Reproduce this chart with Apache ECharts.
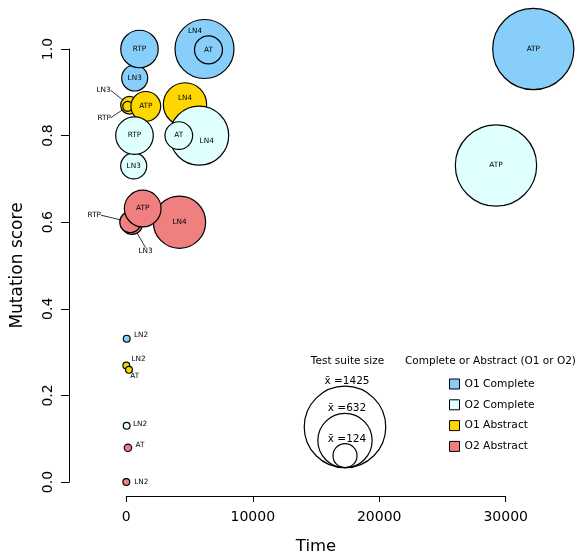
<!DOCTYPE html>
<html>
<head>
<meta charset="utf-8">
<script src="https://cdn.jsdelivr.net/npm/echarts@6/dist/echarts.min.js"></script>
<style>html,body{margin:0;padding:0;background:#fff}#c{width:579px;height:560px}</style>
</head>
<body>
<div id="c"></div>
<script>
// ---- data ----
const techniques = ['LN2', 'LN3', 'LN4', 'RTP', 'AT', 'ATP'];
const groupNames = ['O1 Complete', 'O2 Complete', 'O1 Abstract', 'O2 Abstract'];

const o1cTime  = [32, 664, 6183, 1044, 6500, 32182];
const o1cScore = [0.331, 0.933, 1.0, 1.0, 0.998, 1.0];
const o1cSize  = [10, 145, 746, 301, 168, 1413];

const o2cTime  = [30, 585, 5764, 648, 4151, 29232];
const o2cScore = [0.13, 0.730, 0.80, 0.80, 0.80, 0.731];
const o2cSize  = [10, 145, 746, 303, 164, 1417];

const o1aTime  = [0, 253, 4641, 111, 213, 1542];
const o1aScore = [0.269, 0.870, 0.872, 0.8675, 0.259, 0.8675];
const o1aSize  = [10, 67, 402, 21, 10, 190];

const o2aTime  = [0, 450, 4206, 316, 130, 1297];
const o2aScore = [0.0, 0.596, 0.60, 0.60, 0.079, 0.6315];
const o2aSize  = [10, 95, 586, 95, 12, 289];

const sizeLegendValues = [1425, 632, 124];
const sizeLegendTitle = 'Test suite size';
const colorLegendTitle = 'Complete or Abstract (O1 or O2)';

// ---- styling ----
const FONT = 'DejaVu Sans';
const colors = {
  'O1 Complete': '#87CEFA',
  'O2 Complete': '#E0FFFF',
  'O1 Abstract': '#FFD700',
  'O2 Abstract': '#F08080'
};
// label offsets (px) relative to each bubble centre, and leader-line flags
const labelOffsets = {
  'O1 Complete': [[14.3, -3.4], [0, 0], [-9.5, -18], [0, 0], [0, 0], [0, 0]],
  'O2 Complete': [[13.3, -2], [0, 0], [7.5, 6], [0, 0], [0, 0], [0, 0]],
  'O1 Abstract': [[12.3, -6.3], [-26, -15], [0, -6], [-23.5, 11.3], [5.7, 6], [0, 0]],
  'O2 Abstract': [[15, 0], [13.5, 27.3], [0, 0], [-36, -7], [12, -3], [0, 0]]
};
const leaderLines = {
  'O1 Complete': [0, 0, 0, 0, 0, 0],
  'O2 Complete': [0, 0, 0, 0, 0, 0],
  'O1 Abstract': [0, 1, 0, 1, 0, 0],
  'O2 Abstract': [0, 1, 0, 1, 0, 0]
};
const diam = n => 2.16 * Math.sqrt(n);

const groups = {
  'O1 Complete': [o1cTime, o1cScore, o1cSize],
  'O2 Complete': [o2cTime, o2cScore, o2cSize],
  'O1 Abstract': [o1aTime, o1aScore, o1aSize],
  'O2 Abstract': [o2aTime, o2aScore, o2aSize]
};
// drawing order (later on top)
const drawOrder = ['O1 Abstract', 'O2 Abstract', 'O1 Complete', 'O2 Complete'];

const series = drawOrder.map(name => {
  const [t, s, n] = groups[name];
  const offs = labelOffsets[name];
  const lines = leaderLines[name];
  return {
    name: name,
    type: 'scatter',
    clip: false,
    data: techniques.map((tech, i) => ({
      name: tech,
      value: [t[i], s[i], n[i]],
      labelLine: { show: !!lines[i] }
    })),
    symbol: 'circle',
    symbolSize: v => diam(v[2]),
    itemStyle: { color: colors[name], borderColor: '#000', borderWidth: 1.2, opacity: 1 },
    label: {
      show: true,
      position: 'inside',
      formatter: p => p.name,
      fontFamily: FONT,
      fontSize: 7.3,
      color: '#000'
    },
    labelLine: { show: false, lineStyle: { color: '#000', width: 0.8 } },
    labelLayout: p => ({ dx: offs[p.dataIndex][0], dy: offs[p.dataIndex][1] }),
    emphasis: { disabled: true },
    animation: false
  };
});

// ---- size legend graphics ----
const legCx = 345, legBottom = 467.7;
const graphics = [];
sizeLegendValues.forEach(v => {
  const r = diam(v) / 2;
  graphics.push({
    type: 'circle',
    shape: { cx: legCx, cy: legBottom - r, r: r },
    style: { fill: 'none', stroke: '#000', lineWidth: 1.2 },
    silent: true
  });
});
const legTextY = [381.5, 408.3, 439.5];
sizeLegendValues.forEach((v, i) => {
  graphics.push({
    type: 'text',
    x: 347, y: legTextY[i],
    style: { text: 'x\u0304 =' + v, font: '10.5px "DejaVu Sans"', fill: '#000', align: 'center', verticalAlign: 'middle' },
    silent: true
  });
});
graphics.push({
  type: 'text', x: 347.5, y: 361.7,
  style: { text: sizeLegendTitle, font: '10.5px "DejaVu Sans"', fill: '#000', align: 'center', verticalAlign: 'middle' },
  silent: true
});
graphics.push({
  type: 'text', x: 490.5, y: 361.7,
  style: { text: colorLegendTitle, font: '10.5px "DejaVu Sans"', fill: '#000', align: 'center', verticalAlign: 'middle' },
  silent: true
});

const chart = echarts.init(document.getElementById('c'), null, { renderer: 'canvas' });
chart.setOption({
  animation: false,
  backgroundColor: '#fff',
  grid: { left: 126.3, right: 73.3, top: 49, bottom: 73.3, containLabel: false },
  xAxis: {
    type: 'value', min: 0, max: 30000, interval: 10000,
    offset: 14,
    name: 'Time', nameLocation: 'middle', nameGap: 42,
    nameTextStyle: { fontFamily: FONT, fontSize: 16.5, color: '#000' },
    axisLine: { show: true, onZero: false, lineStyle: { color: '#000', width: 1 } },
    axisTick: { show: true, length: 6, lineStyle: { color: '#000' } },
    axisLabel: { fontFamily: FONT, fontSize: 14, color: '#000', margin: 14, formatter: v => String(v) },
    splitLine: { show: false }
  },
  yAxis: {
    type: 'value', min: 0, max: 1, interval: 0.2,
    offset: 57.3,
    name: 'Mutation score', nameLocation: 'middle', nameGap: 43, nameRotate: 90,
    nameTextStyle: { fontFamily: FONT, fontSize: 17, color: '#000' },
    axisLine: { show: true, onZero: false, lineStyle: { color: '#000', width: 1 } },
    axisTick: { show: true, length: 8, lineStyle: { color: '#000' } },
    axisLabel: { fontFamily: FONT, fontSize: 14, color: '#000', margin: 14, rotate: 90, formatter: v => v.toFixed(1) },
    splitLine: { show: false }
  },
  legend: {
    data: groupNames,
    orient: 'vertical',
    left: 449, top: 378,
    padding: 0,
    icon: 'rect',
    itemWidth: 10, itemHeight: 10, itemGap: 8.8,
    itemStyle: { borderColor: '#000', borderWidth: 1 },
    textStyle: { fontFamily: FONT, fontSize: 10.7, color: '#000', lineHeight: 12 },
    selectedMode: false
  },
  graphic: graphics,
  series: series
});
</script>
</body>
</html>
